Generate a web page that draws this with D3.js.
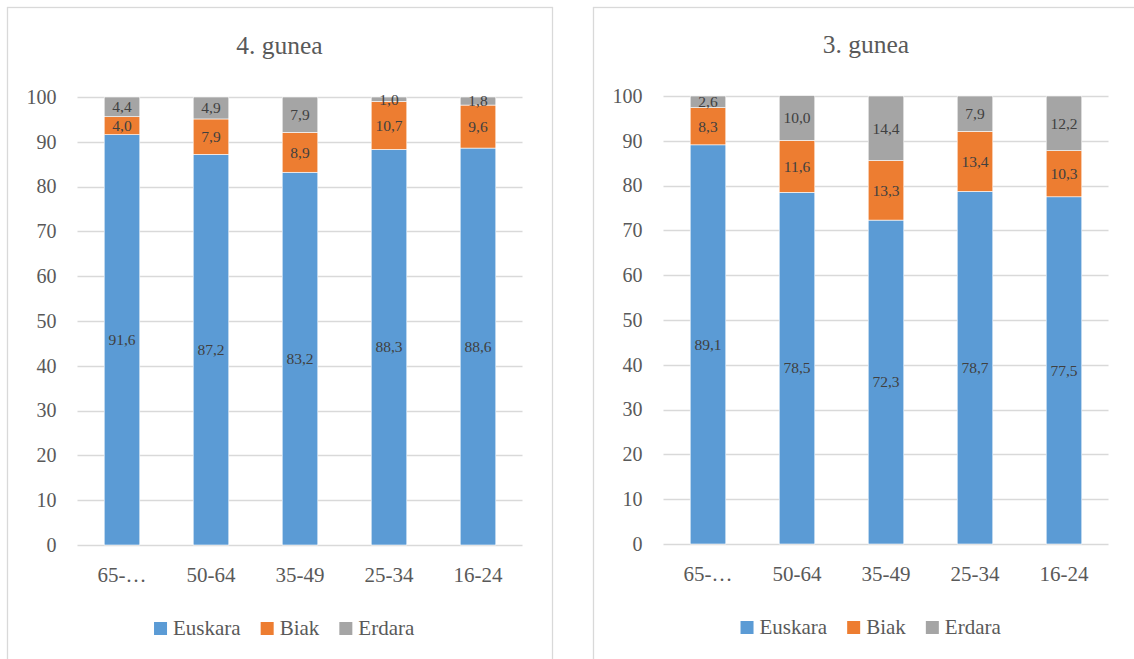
<!DOCTYPE html>
<html>
<head>
<meta charset="utf-8">
<script src="https://cdn.jsdelivr.net/npm/d3@7"></script>
<style>
  html, body { margin: 0; padding: 0; background: #ffffff; }
  svg { display: block; }
</style>
</head>
<body>
<svg id="chart" width="1134" height="659" font-family="'Liberation Serif', 'Times New Roman', serif"></svg>
<script>
// ---- data ----
const categories = ["65-…", "50-64", "35-49", "25-34", "16-24"];
const seriesNames = ["Euskara", "Biak", "Erdara"];
const seriesColors = ["#5B9BD5", "#ED7D31", "#A5A5A5"];
const yTicks = [0, 10, 20, 30, 40, 50, 60, 70, 80, 90, 100];

const title4 = "4. gunea";
const euskara4 = [91.6, 87.2, 83.2, 88.3, 88.6];
const biak4    = [4.0, 7.9, 8.9, 10.7, 9.6];
const erdara4  = [4.4, 4.9, 7.9, 1.0, 1.8];

const title3 = "3. gunea";
const euskara3 = [89.1, 78.5, 72.3, 78.7, 77.5];
const biak3    = [8.3, 11.6, 13.3, 13.4, 10.3];
const erdara3  = [2.6, 10.0, 14.4, 7.9, 12.2];

// ---- drawing ----
const svg = d3.select("#chart");
const fmt = v => d3.format(".1f")(v).replace(".", ",");

function drawPanel(opts) {
  const g = svg.append("g");
  g.append("rect")
    .attr("x", opts.box[0] + 0.5).attr("y", opts.box[1] + 0.5)
    .attr("width", opts.box[2]).attr("height", opts.box[3])
    .attr("fill", "#ffffff").attr("stroke", "#D9D9D9").attr("stroke-width", 1.3);

  const x = d3.scaleBand().domain(categories).range([opts.plot[0], opts.plot[1]]).paddingInner(0.6).paddingOuter(0.3);
  const y = d3.scaleLinear().domain([0, 100]).range([opts.plot[3], opts.plot[2]]);

  g.append("text")
    .attr("x", opts.box[0] + opts.box[2] / 2)
    .attr("y", opts.titleY)
    .attr("text-anchor", "middle")
    .attr("font-size", 25.5)
    .attr("fill", "#595959")
    .text(opts.title);

  g.append("g").selectAll("line").data(yTicks).join("line")
    .attr("x1", opts.plot[0]).attr("x2", opts.plot[1])
    .attr("y1", d => Math.round(y(d)) + 0.5).attr("y2", d => Math.round(y(d)) + 0.5)
    .attr("stroke", "#D9D9D9").attr("stroke-width", 1.3);

  g.append("g").selectAll("text").data(yTicks).join("text")
    .attr("x", opts.plot[0] - 21)
    .attr("y", d => y(d))
    .attr("dy", "0.34em")
    .attr("text-anchor", "end")
    .attr("font-size", 20)
    .attr("fill", "#595959")
    .text(d => d);

  const rows = categories.map((c, i) => ({ cat: c, Euskara: opts.values[0][i], Biak: opts.values[1][i], Erdara: opts.values[2][i] }));
  const stacked = d3.stack().keys(seriesNames)(rows);

  const layers = g.append("g").selectAll("g").data(stacked).join("g")
    .attr("fill", (d, i) => seriesColors[i]);
  layers.selectAll("rect").data(d => d).join("rect")
    .attr("x", d => x(d.data.cat))
    .attr("width", x.bandwidth())
    .attr("y", d => y(d[1]))
    .attr("height", d => y(d[0]) - y(d[1]))
    .attr("stroke", "#ffffff").attr("stroke-width", 0.6);

  const lbl = g.append("g");
  stacked.forEach((layer) => {
    lbl.selectAll(null).data(layer).join("text")
      .attr("x", d => x(d.data.cat) + x.bandwidth() / 2)
      .attr("y", d => y((d[0] + d[1]) / 2))
      .attr("dy", "0.34em")
      .attr("text-anchor", "middle")
      .attr("font-size", 15.5)
      .attr("fill", "#404040")
      .text(d => fmt(d.data[layer.key]));
  });

  g.append("g").selectAll("text").data(categories).join("text")
    .attr("x", d => x(d) + x.bandwidth() / 2)
    .attr("y", opts.xLabelY)
    .attr("text-anchor", "middle")
    .attr("font-size", 21)
    .attr("fill", "#595959")
    .text(d => d);

  const leg = g.append("g");
  let lx = opts.legendX;
  seriesNames.forEach((name, i) => {
    leg.append("rect")
      .attr("x", lx).attr("y", opts.legendY - 13)
      .attr("width", 13).attr("height", 13)
      .attr("fill", seriesColors[i]);
    const t = leg.append("text")
      .attr("x", lx + 19).attr("y", opts.legendY)
      .attr("font-size", 21)
      .attr("fill", "#595959")
      .text(name);
    lx += 19 + t.node().getComputedTextLength() + 20;
  });
  const bb = leg.node().getBBox();
  const cx = opts.box[0] + opts.box[2] / 2;
  leg.attr("transform", `translate(${cx - (bb.x + bb.width / 2) + 5},0)`);
}

drawPanel({
  box: [7, 7, 545, 680],
  plot: [77.5, 522.5, 97, 545],
  title: title4,
  titleY: 54,
  values: [euskara4, biak4, erdara4],
  xLabelY: 582,
  legendX: 155,
  legendY: 635
});

drawPanel({
  box: [593, 7, 546, 680],
  plot: [663.5, 1108.5, 96, 544],
  title: title3,
  titleY: 53,
  values: [euskara3, biak3, erdara3],
  xLabelY: 581,
  legendX: 741,
  legendY: 634
});
</script>
</body>
</html>
